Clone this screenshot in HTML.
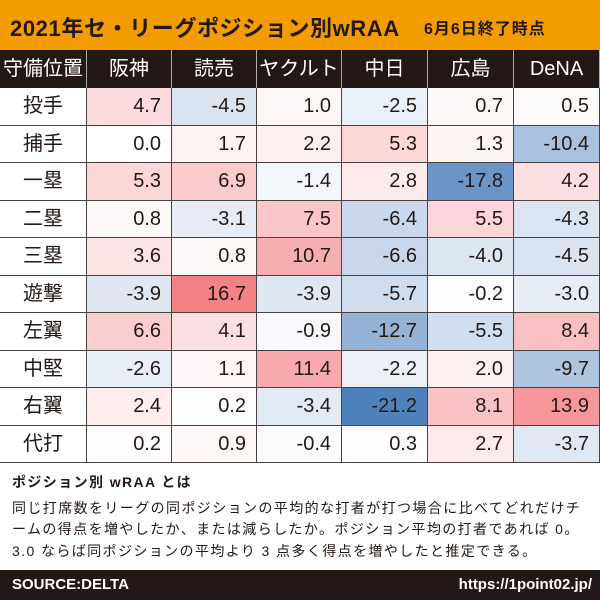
<!DOCTYPE html>
<html><head><meta charset="utf-8"><style>
body{margin:0;width:600px;height:600px;overflow:hidden;background:#fff;font-family:"Liberation Sans","Noto Sans CJK JP",sans-serif;position:relative}
#title{position:absolute;left:0;top:0;width:600px;height:50px;background:#f39c00;color:#231815}
#title .m{position:absolute;left:10px;top:11px;font-size:22px;font-weight:bold;letter-spacing:0.6px}
#title .s{position:absolute;left:424px;top:15px;font-size:16px;font-weight:bold;letter-spacing:1px}
#tbl{position:absolute;left:0;top:50px}
.c{position:absolute;box-sizing:border-box;font-size:20px;color:#231815;border-right:1.5px solid #4a4040;border-bottom:1.5px solid #4a4040}
.h{background:#231815;color:#fff;text-align:center;line-height:38px;border-right:1.5px solid #aaa;border-bottom:none}
#notes{position:absolute;left:12px;top:472px;font-size:14px;color:#231815;line-height:21.5px;letter-spacing:1.4px}
#foot{position:absolute;left:0;top:570px;width:600px;height:30px;background:#231815;color:#fff;font-weight:bold;font-size:15px}
</style></head><body>
<div id="title"><span class="m">2021年セ・リーグポジション別wRAA</span><span class="s">6月6日終了時点</span></div>
<div id="tbl"></div>
<div id="notes"><div style="font-weight:bold">ポジション別 wRAA とは</div><div style="margin-top:4px">同じ打席数をリーグの同ポジションの平均的な打者が打つ場合に比べてどれだけチ<br>ームの得点を増やしたか、または減らしたか。ポジション平均の打者であれば 0。<br>3.0 ならば同ポジションの平均より 3 点多く得点を増やしたと推定できる。</div></div>
<div id="foot"><span style="position:absolute;left:12px;top:6px">SOURCE:DELTA</span><span style="position:absolute;right:8px;top:6px">https://1point02.jp/</span></div>
<script>
const teams=["阪神","読売","ヤクルト","中日","広島","DeNA"];
const positions=["投手","捕手","一塁","二塁","三塁","遊撃","左翼","中堅","右翼","代打"];
const values=[
[4.7,-4.5,1.0,-2.5,0.7,0.5],
[0.0,1.7,2.2,5.3,1.3,-10.4],
[5.3,6.9,-1.4,2.8,-17.8,4.2],
[0.8,-3.1,7.5,-6.4,5.5,-4.3],
[3.6,0.8,10.7,-6.6,-4.0,-4.5],
[-3.9,16.7,-3.9,-5.7,-0.2,-3.0],
[6.6,4.1,-0.9,-12.7,-5.5,8.4],
[-2.6,1.1,11.4,-2.2,2.0,-9.7],
[2.4,0.2,-3.4,-21.2,8.1,13.9],
[0.2,0.9,-0.4,0.3,2.7,-3.7]];
const tbl=document.getElementById('tbl');
const colX=[0,87,172,257,342,428,514,600];
const rowH=37.5, headH=38;
function color(v){
 let r,g,b;
 if(v>=0){const t=Math.min(v/18,1);r=255-t*12;g=255-t*135;b=255-t*130;}
 else{const t=Math.min(-v/21.2,1);r=255-t*176;g=255-t*126;b=255-t*66;}
 return `rgb(${r|0},${g|0},${b|0})`;
}
function cell(x,y,w,h,cls){const d=document.createElement('div');d.className='c '+cls;d.style.left=x+'px';d.style.top=y+'px';d.style.width=w+'px';d.style.height=h+'px';tbl.appendChild(d);return d;}
let hd=cell(0,0,colX[1],headH,'h');hd.textContent='守備位置';


teams.forEach((t,i)=>{const d=cell(colX[i+1],0,colX[i+2]-colX[i+1],headH,'h');d.textContent=t;
 
 });
positions.forEach((p,r)=>{
 const y=headH+r*rowH;
 const d=cell(0,y,colX[1],rowH,'');d.textContent=p;d.style.textAlign='center';d.style.lineHeight=rowH+'px';
 
 
 values[r].forEach((v,i)=>{
  const c=cell(colX[i+1],y,colX[i+2]-colX[i+1],rowH,'');
  c.style.background=color(v);c.textContent=v.toFixed(1);c.style.textAlign='right';c.style.paddingRight='10px';c.style.lineHeight=rowH+'px';
  
  
 });
});
</script>
</body></html>
